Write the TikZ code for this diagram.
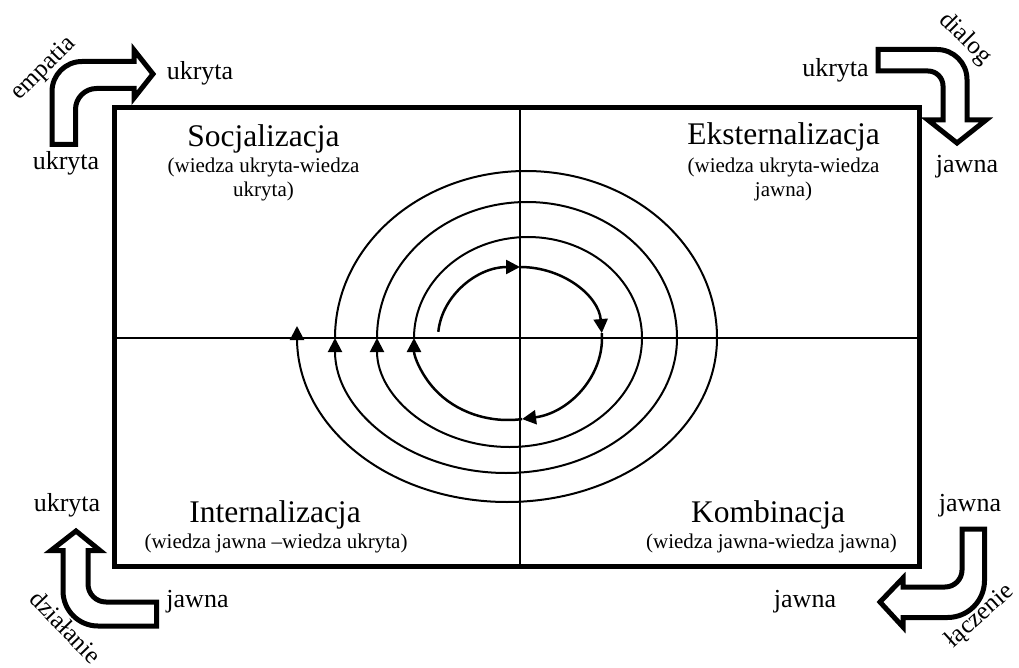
\documentclass[tikz,border=0pt]{standalone}
\usepackage{fontspec}
\setmainfont{Liberation Serif}
\usetikzlibrary{arrows.meta}
\begin{document}
\begin{tikzpicture}[x=1pt,y=1pt,
  title/.style={font=\fontsize{31.5}{36}\selectfont, anchor=base, inner sep=0pt},
  sub/.style={font=\fontsize{21}{25}\selectfont, anchor=base, inner sep=0pt},
  lab/.style={font=\fontsize{26}{30}\selectfont, anchor=base, inner sep=0pt},
  rlab/.style={font=\fontsize{25}{30}\selectfont, inner sep=0pt},
  spir/.style={line width=2pt},
  arr/.style={spir, -{Triangle[length=14pt,width=14pt]}},
  bent/.style={line width=5pt, fill=white, line join=miter},
  frame/.style={line width=5pt},
  axis/.style={line width=2pt}]
\useasboundingbox (0,0) rectangle (1019,-668);
% axes and frame
\coordinate (L) at (114,-338); \coordinate (R) at (919,-338);
\coordinate (T) at (520,-108); \coordinate (B) at (520,-566);
\draw[axis] (L) -- (R);
\draw[axis] (T) -- (B);
\draw[frame] (114,-108) rectangle (919,-566);
% spiral
\draw[arr,line width=2.5pt] (438.31,-331.81) arc[start angle=175,end angle=90,x radius=82,y radius=71];
\draw[arr,line width=2.5pt] (520,-267) arc[start angle=90,end angle=4,x radius=82,y radius=71];
\draw[spir,line width=2.5pt] (601.8,-333.05) arc[start angle=4,end angle=0,x radius=82,y radius=71];
\draw[arr,line width=2.5pt] (602,-338) arc[start angle=0,end angle=-81.4,x radius=94,y radius=82];
\draw[arr,line width=2.5pt] (522.06,-419.08) arc[start angle=-81.4,end angle=-180,x radius=94,y radius=82];
\draw[spir] (414,-338) arc[start angle=180,end angle=0,x radius=114,y radius=101];
\draw[arr] (642,-338) arc[start angle=0,end angle=-180,x radius=132.5,y radius=109];
\draw[spir] (377,-338) arc[start angle=180,end angle=0,x radius=150,y radius=136];
\draw[arr] (677,-338) arc[start angle=0,end angle=-180,x radius=171,y radius=135];
\draw[spir] (335,-338) arc[start angle=180,end angle=0,x radius=191,y radius=167];
\draw[spir] (717,-338) arc[start angle=0,end angle=-180,x radius=210,y radius=164];
\draw[arr] (297,-345) -- (297,-326);
% bent arrows
\draw[bent] (52,-144.5) -- (52,-91.5) arc[start angle=180,end angle=90,radius=30]
  -- (134,-61.5) -- (134,-50) -- (153,-74) -- (134,-98) -- (134,-88.5)
  -- (96.5,-88.5) arc[start angle=90,end angle=180,radius=21] -- (75.5,-144.5) -- cycle;
\draw[bent] (878,-49.5) -- (937,-49.5) arc[start angle=90,end angle=0,radius=30]
  -- (967,-120) -- (986,-120) -- (957,-143) -- (928,-120) -- (943,-120)
  -- (943,-86) arc[start angle=0,end angle=90,radius=15] -- (878,-71) -- cycle;
\draw[bent] (962,-529) -- (984.5,-529) -- (984.5,-580.5) arc[start angle=0,end angle=-90,radius=37]
  -- (903,-617.5) -- (903,-627) -- (880,-602) -- (903,-578) -- (903,-587)
  -- (945,-587) arc[start angle=-90,end angle=0,radius=17] -- cycle;
\draw[bent] (156.5,-602) -- (156.5,-626) -- (98,-626) arc[start angle=-90,end angle=-180,radius=35]
  -- (63,-550.5) -- (51,-550.5) -- (76,-531) -- (100,-550.5) -- (88,-550.5)
  -- (88,-584) arc[start angle=180,end angle=270,radius=18] -- cycle;
% quadrant texts
\node[title] (soc) at (263.5,-147) {Socjalizacja};
\node[sub] (soc1) at (263.5,-173) {(wiedza ukryta-wiedza};
\node[sub] (soc2) at (263.5,-197) {ukryta)};
\node[title] (eks) at (783.5,-145) {Eksternalizacja};
\node[sub] (eks1) at (783.5,-173) {(wiedza ukryta-wiedza};
\node[sub] (eks2) at (783.5,-197) {jawna)};
\node[title] (int) at (275,-522) {Internalizacja};
\node[sub] (int1) at (276,-548) {(wiedza jawna –wiedza ukryta)};
\node[title] (kom) at (768,-522) {Kombinacja};
\node[sub] (kom1) at (771.5,-548) {(wiedza jawna-wiedza jawna)};
% corner labels
\node[lab] (tl1) at (200,-80) {ukryta};
\node[lab] (tl2) at (66,-170) {ukryta};
\node[rlab, rotate=45] (tl3) at (44,-69) {empatia};
\node[lab] (tr1) at (835.5,-77) {ukryta};
\node[lab] (tr2) at (967,-173) {jawna};
\node[rlab, rotate=-45] (tr3) at (965,-39) {dialog};
\node[lab] (bl1) at (67,-511) {ukryta};
\node[lab] (bl2) at (197.5,-607) {jawna};
\node[rlab, rotate=-46] (bl3) at (66,-627) {działanie};
\node[lab] (br1) at (970,-511) {jawna};
\node[lab] (br2) at (805,-607) {jawna};
\node[rlab, rotate=42] (br3) at (980,-616) {łączenie};
\end{tikzpicture}
\end{document}
